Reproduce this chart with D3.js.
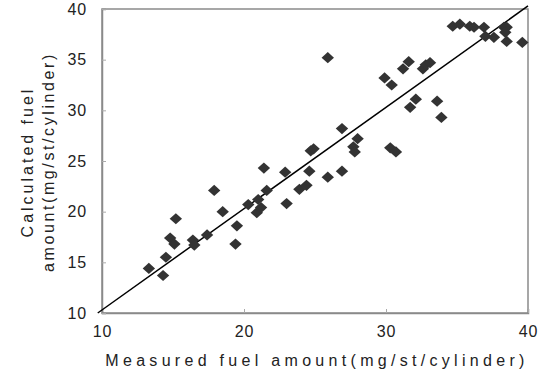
<!DOCTYPE html>
<html>
<head>
<meta charset="utf-8">
<script src="https://cdn.jsdelivr.net/npm/d3@7"></script>
<style>
  body { margin: 0; background: #fff; }
  text { font-family: "Liberation Sans", Arial, sans-serif; fill: #222; }
</style>
</head>
<body>
<svg id="chart"></svg>
<script>
// measured vs calculated fuel amount (mg/st/cylinder)
const measured = [
  13.3, 14.3, 14.5, 14.8, 15.1, 15.2, 16.4, 16.5, 17.4, 17.9, 18.5, 19.5, 19.4,
  20.3, 20.9, 21.2, 21.0, 21.6, 21.4, 22.9, 23.0, 23.9, 24.4, 24.6, 24.7, 24.9,
  25.9, 25.9, 26.9, 26.9, 28.0, 27.7, 27.8, 29.9, 30.4, 30.3, 30.7, 31.2, 31.6,
  31.7, 32.1, 32.6, 32.8, 33.1, 33.6, 33.9, 34.7, 35.2, 35.9, 36.2, 36.9, 37.0,
  37.6, 38.3, 38.5, 38.4, 38.5, 39.6
];
const calculated = [
  14.4, 13.7, 15.5, 17.4, 16.8, 19.3, 17.2, 16.7, 17.7, 22.1, 20.0, 18.6, 16.8,
  20.7, 19.9, 20.4, 21.2, 22.1, 24.3, 23.9, 20.8, 22.2, 22.6, 24.0, 26.0, 26.2,
  35.2, 23.4, 24.0, 28.2, 27.2, 26.4, 25.9, 33.2, 32.5, 26.3, 25.9, 34.1, 34.8,
  30.3, 31.1, 34.1, 34.5, 34.7, 30.9, 29.3, 38.3, 38.5, 38.3, 38.2, 38.2, 37.3,
  37.2, 38.2, 38.2, 37.7, 36.8, 36.7
];
const tickValuesX = [10, 20, 30, 40];
const tickValuesY = [10, 15, 20, 25, 30, 35, 40];
const refLine = [[9.7, 10], [40, 40.3]];

const dim = { width: 549, height: 379, left: 102, right: 528, top: 9, bottom: 313 };

const svg = d3.select('#chart')
  .attr('width', dim.width)
  .attr('height', dim.height);

const x = d3.scaleLinear().domain([10, 40]).range([dim.left, dim.right]);
const y = d3.scaleLinear().domain([10, 40]).range([dim.bottom, dim.top]);

// frame
svg.append('rect')
  .attr('x', dim.left)
  .attr('y', dim.top)
  .attr('width', dim.right - dim.left)
  .attr('height', dim.bottom - dim.top)
  .attr('fill', 'none')
  .attr('stroke', '#8a8a8a')
  .attr('stroke-width', 1.5);

// axes, ticks pointing inward
const xAxis = svg.append('g')
  .attr('transform', `translate(0,${dim.bottom})`)
  .call(d3.axisBottom(x).tickValues(tickValuesX).tickSize(-4).tickPadding(10));
const yAxis = svg.append('g')
  .attr('transform', `translate(${dim.left},0)`)
  .call(d3.axisLeft(y).tickValues(tickValuesY).tickSize(-4).tickPadding(15));

[xAxis, yAxis].forEach(ax => {
  ax.select('.domain').attr('stroke', '#8a8a8a').attr('stroke-width', 1.5);
  ax.selectAll('.tick line').attr('stroke', '#aaa');
  ax.selectAll('.tick text')
    .style('font-size', '16px')
    .style('letter-spacing', '0.8px')
    .style('font-family', '"Liberation Sans", Arial, sans-serif')
    .attr('fill', '#222');
});
xAxis.selectAll('.tick text').attr('dy', '0.85em');

// 1:1 reference line
svg.append('path')
  .attr('d', d3.line().x(d => x(d[0])).y(d => y(d[1]))(refLine))
  .attr('stroke', '#000')
  .attr('stroke-width', 1.5)
  .attr('fill', 'none');

// diamond markers
const diamond = 'M0,-5.6L6.2,0L0,5.6L-6.2,0Z';
svg.append('g')
  .selectAll('path')
  .data(measured.map((m, i) => [m, calculated[i]]))
  .join('path')
  .attr('d', diamond)
  .attr('transform', d => `translate(${x(d[0])},${y(d[1])})`)
  .attr('fill', '#333');

// axis titles
svg.append('text')
  .attr('x', (dim.left + dim.right) / 2 + 2)
  .attr('y', 366)
  .attr('text-anchor', 'middle')
  .style('font-size', '16px')
  .style('letter-spacing', '4.3px')
  .text('Measured fuel amount(mg/st/cylinder)');

const yTitle = svg.append('g')
  .attr('transform', 'translate(0,162) rotate(-90)');
yTitle.append('text')
  .attr('x', 0)
  .attr('y', 33)
  .attr('text-anchor', 'middle')
  .style('font-size', '16px')
  .style('letter-spacing', '3px')
  .text('Calculated fuel');
yTitle.append('text')
  .attr('x', 0)
  .attr('y', 54)
  .attr('text-anchor', 'middle')
  .style('font-size', '16px')
  .style('letter-spacing', '2.6px')
  .text('amount(mg/st/cylinder)');
</script>
</body>
</html>
